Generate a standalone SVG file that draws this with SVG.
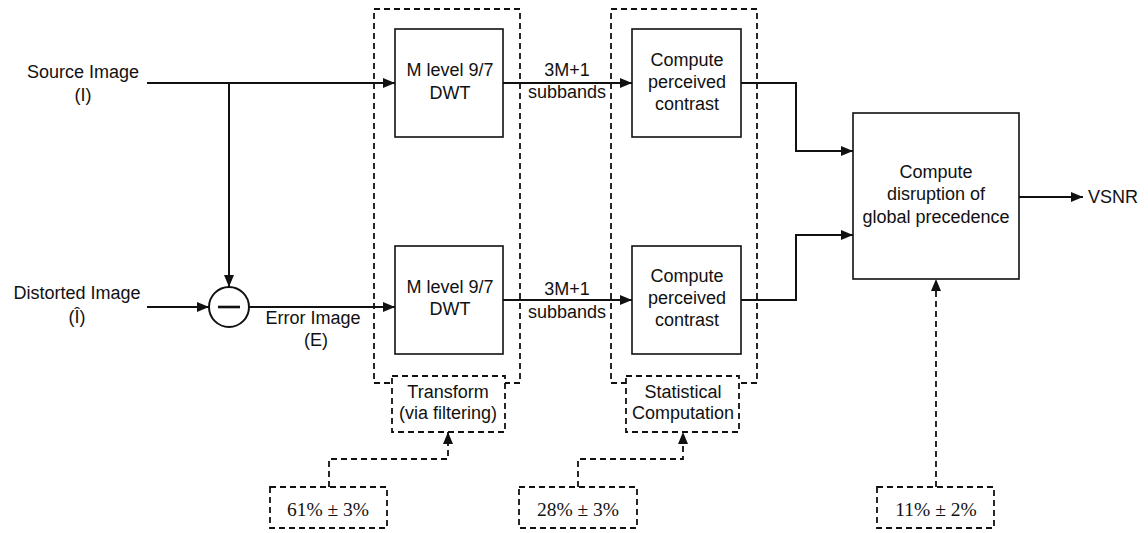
<svg xmlns="http://www.w3.org/2000/svg" width="1148" height="533" viewBox="0 0 1148 533">
<style>
.t{font-family:"Liberation Sans",Arial,sans-serif;font-size:18px;fill:#111;text-anchor:middle;dominant-baseline:central}
.p{font-family:"Liberation Serif","Times New Roman",serif;font-size:19.5px;fill:#111;text-anchor:middle;dominant-baseline:central}
.box{fill:#fff;stroke:#111;stroke-width:1.6}
.dbox{fill:#fff;stroke:#111;stroke-width:1.8;stroke-dasharray:6 4}
.grp{fill:none;stroke:#111;stroke-width:1.8;stroke-dasharray:6 4}
.ln{fill:none;stroke:#111;stroke-width:2;marker-end:url(#ah)}
.dl{fill:none;stroke:#111;stroke-width:1.8;stroke-dasharray:6 4;marker-end:url(#ah)}
</style>
<defs>
<marker id="ah" viewBox="0 0 12 10" refX="12" refY="5" markerWidth="12" markerHeight="10" markerUnits="userSpaceOnUse" orient="auto">
<path d="M0,0 L12,5 L0,10 Z" fill="#111"/>
</marker>
</defs>
<rect width="1148" height="533" fill="#fff"/>

<g id="group-transform">
<rect class="grp" x="374" y="9" width="146" height="374"/>
</g>
<g id="group-statistical">
<rect class="grp" x="611" y="9" width="146" height="374"/>
</g>

<g id="connectors">
<path class="ln" d="M147,83 H395"/>
<path class="ln" d="M229,83 V287"/>
<path class="ln" d="M147,307 H209"/>
<path class="ln" d="M249,307 H395"/>
<path class="ln" d="M503,83 H632"/>
<path class="ln" d="M503,300 H632"/>
<path class="ln" d="M741,83 H796 V151 H853"/>
<path class="ln" d="M741,300 H796 V235 H853"/>
<path class="ln" d="M1019,197 H1083"/>
<path class="dl" d="M329,487 V459 H448 V432"/>
<path class="dl" d="M578,487 V459 H683 V432"/>
<path class="dl" d="M936,487 V279"/>
</g>

<g id="source-label">
<text class="t" x="83" y="72">Source Image</text>
<text class="t" x="83" y="95">(I)</text>
</g>
<g id="distorted-label">
<text class="t" x="77" y="293">Distorted Image</text>
<text class="t" x="77" y="317">(Î)</text>
</g>
<g id="subtract">
<circle cx="229" cy="307" r="20" fill="#fff" stroke="#111" stroke-width="2"/>
<line x1="218" y1="307" x2="240" y2="307" stroke="#111" stroke-width="2.6"/>
</g>
<g id="error-label">
<text class="t" x="313" y="318">Error Image</text>
<text class="t" x="316" y="340">(E)</text>
</g>

<g id="dwt-top">
<rect class="box" x="395" y="29" width="108" height="108"/>
<text class="t" x="450" y="70">M level 9/7</text>
<text class="t" x="450" y="93">DWT</text>
</g>
<g id="dwt-bottom">
<rect class="box" x="395" y="246" width="108" height="108"/>
<text class="t" x="450" y="287">M level 9/7</text>
<text class="t" x="450" y="309">DWT</text>
</g>
<g id="subbands-top">
<text class="t" x="567" y="70">3M+1</text>
<text class="t" x="567" y="92">subbands</text>
</g>
<g id="subbands-bottom">
<text class="t" x="567" y="289">3M+1</text>
<text class="t" x="567" y="312">subbands</text>
</g>
<g id="contrast-top">
<rect class="box" x="632" y="29" width="109" height="108"/>
<text class="t" x="687" y="60">Compute</text>
<text class="t" x="687" y="82">perceived</text>
<text class="t" x="687" y="104">contrast</text>
</g>
<g id="contrast-bottom">
<rect class="box" x="632" y="246" width="109" height="108"/>
<text class="t" x="687" y="276">Compute</text>
<text class="t" x="687" y="298">perceived</text>
<text class="t" x="687" y="320">contrast</text>
</g>
<g id="disruption">
<rect class="box" x="853" y="113" width="166" height="166"/>
<text class="t" x="936" y="172">Compute</text>
<text class="t" x="936" y="194">disruption of</text>
<text class="t" x="936" y="217">global precedence</text>
</g>
<g id="vsnr">
<text class="t" x="1088" y="197" style="text-anchor:start">VSNR</text>
</g>

<g id="transform-label">
<rect class="dbox" x="392" y="376" width="113" height="56"/>
<text class="t" x="448" y="392">Transform</text>
<text class="t" x="448" y="413">(via filtering)</text>
</g>
<g id="statistical-label">
<rect class="dbox" x="626" y="376" width="113" height="56"/>
<text class="t" x="683" y="392">Statistical</text>
<text class="t" x="683" y="413">Computation</text>
</g>
<g id="pct-61">
<rect class="dbox" x="270" y="487" width="117" height="41"/>
<text class="p" x="328" y="509">61% ± 3%</text>
</g>
<g id="pct-28">
<rect class="dbox" x="519" y="487" width="118" height="41"/>
<text class="p" x="578" y="509">28% ± 3%</text>
</g>
<g id="pct-11">
<rect class="dbox" x="877" y="487" width="117" height="41"/>
<text class="p" x="936" y="509">11% ± 2%</text>
</g>
</svg>
